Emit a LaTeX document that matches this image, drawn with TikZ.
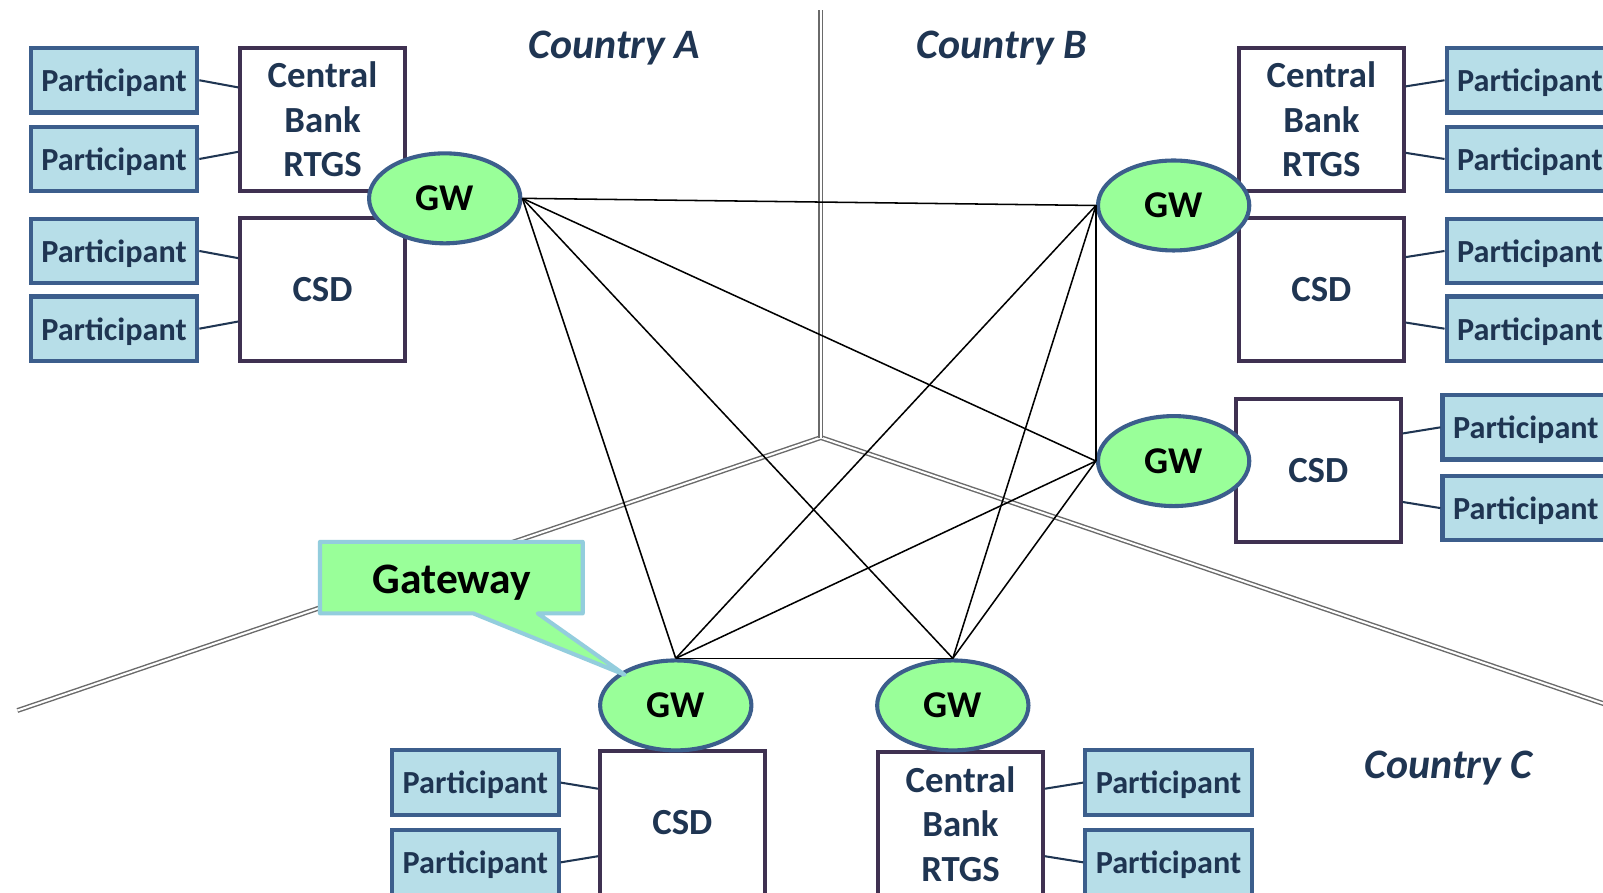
\documentclass[tikz,border=0pt]{standalone}
\usepackage{fontspec}
\setmainfont{Carlito}
\usetikzlibrary{shapes.geometric,calc}
\definecolor{navy}{HTML}{1F3552}
\definecolor{pfill}{HTML}{B7DEE8}
\definecolor{pborder}{HTML}{3C5E8C}
\definecolor{boxborder}{HTML}{3F3151}
\definecolor{gwfill}{HTML}{99FF99}
\definecolor{calloutborder}{HTML}{93CDDD}
\definecolor{divider}{HTML}{6A6A6A}
\tikzset{
  part/.style={draw=pborder, fill=pfill, line width=4pt, minimum width=163pt, minimum height=63pt, inner sep=0pt, text=navy, text depth=0pt, font=\bfseries\fontsize{31.5}{37}\selectfont},
  sysbox/.style={draw=boxborder, fill=white, line width=4pt, minimum width=161pt, minimum height=140pt, inner sep=0pt, text=navy, align=center, font=\bfseries\fontsize{36}{43.5}\selectfont},
  gw/.style={ellipse, draw=pborder, fill=gwfill, line width=4pt, minimum width=148pt, minimum height=88pt, inner sep=0pt, font=\bfseries\fontsize{37}{44}\selectfont},
  link/.style={line width=1.5pt},
  plink/.style={draw=navy, line width=2pt},
  divline/.style={draw=divider, line width=1.4pt, double=white, double distance=2pt},
  country/.style={text=navy, text depth=0pt, font=\bfseries\itshape\fontsize{41}{48}\selectfont},
  callout/.style={draw=calloutborder, fill=gwfill, line width=4pt, line join=round},
  callouttext/.style={text depth=0pt, font=\bfseries\fontsize{42.5}{48}\selectfont}
}
\begin{document}
\begin{tikzpicture}[x=1pt,y=-1pt]
\useasboundingbox (0,0) rectangle (1568,873);
\clip (0,0) rectangle (1568,873);
\fill[white] (0,0) rectangle (1568,873);

% dividers
\coordinate (dTop) at (803,10);
\coordinate (dMid) at (803,428);
\coordinate (dLeft) at (17,695);
\coordinate (dRight) at (1600,699);
\draw[divline] (dLeft) -- (dMid) -- (dRight);
\draw[divline] (dTop) -- (dMid);

% country labels
\node[country] (cA) at (601,44) {Country A};
\node[country] (cB) at (980,44) {Country B};
\node[country] (cC) at (1417,748) {Country C};

% Country A
\node[part] (pA1) at (111.5,78.5) {Participant};
\node[part] (pA2) at (111.5,155.5) {Participant};
\node[part] (pA3) at (111.5,245.5) {Participant};
\node[part] (pA4) at (111.5,321.5) {Participant};
\node[sysbox] (cbA) at (315.5,117) {Central\\Bank\\RTGS};
\node[sysbox] (csdA) at (315.5,283) {CSD};

% Country B
\node[part] (pB1) at (1496.5,78.5) {Participant};
\node[part] (pB2) at (1496.5,155.5) {Participant};
\node[part] (pB3) at (1496.5,245.5) {Participant};
\node[part] (pB4) at (1496.5,321.5) {Participant};
\node[sysbox] (cbB) at (1292.5,117) {Central\\Bank\\RTGS};
\node[sysbox] (csdB) at (1292.5,283) {CSD};
\node[part] (pB5) at (1492.5,418) {Participant};
\node[part] (pB6) at (1492.5,497) {Participant};
\node[sysbox] (csdB2) at (1289.5,460) {CSD};

% Country C
\node[part] (pC1) at (465,765.5) {Participant};
\node[part] (pC2) at (465,843.5) {Participant};
\node[sysbox] (csdC) at (667.5,805) {CSD};
\node[part] (pC3) at (1143,765.5) {Participant};
\node[part] (pC4) at (1143,843.5) {Participant};
\node[sysbox] (cbC) at (939.5,806) {Central\\Bank\\RTGS};

% participant links
\draw[plink] (pA1.east) -- ($(pA1.east -| cbA.west)+(0,7)$);
\draw[plink] (pA2.east) -- ($(pA2.east -| cbA.west)+(0,-7)$);
\draw[plink] (pA3.east) -- ($(pA3.east -| csdA.west)+(0,7)$);
\draw[plink] (pA4.east) -- ($(pA4.east -| csdA.west)+(0,-7)$);
\draw[plink] (pB1.west) -- ($(pB1.west -| cbB.east)+(0,6)$);
\draw[plink] (pB2.west) -- ($(pB2.west -| cbB.east)+(0,-6)$);
\draw[plink] (pB3.west) -- ($(pB3.west -| csdB.east)+(0,6)$);
\draw[plink] (pB4.west) -- ($(pB4.west -| csdB.east)+(0,-6)$);
\draw[plink] (pB5.west) -- ($(pB5.west -| csdB2.east)+(0,6)$);
\draw[plink] (pB6.west) -- ($(pB6.west -| csdB2.east)+(0,-6)$);
\draw[plink] (pC1.east) -- ($(pC1.east -| csdC.west)+(0,6)$);
\draw[plink] (pC2.east) -- ($(pC2.east -| csdC.west)+(0,-6)$);
\draw[plink] (pC3.west) -- ($(pC3.west -| cbC.east)+(0,6)$);
\draw[plink] (pC4.west) -- ($(pC4.west -| cbC.east)+(0,-6)$);

% gateways
\node[gw] (gA) at (435,194) {GW};
\node[gw] (gB1) at (1148,201) {GW};
\node[gw] (gB2) at (1148,451) {GW};
\node[gw] (gC1) at (661,690) {GW};
\node[gw] (gC2) at (932,690) {GW};

% gateway mesh
\draw[link] (gA.east) -- (gB1.west);
\draw[link] (gA.east) -- (gB2.west);
\draw[link] (gA.east) -- (gC1.north);
\draw[link] (gA.east) -- (gC2.north);
\draw[link] (gB1.west) -- (gB2.west);
\draw[link] (gB1.west) -- (gC1.north);
\draw[link] (gB1.west) -- (gC2.north);
\draw[link] (gB2.west) -- (gC1.north);
\draw[link] (gB2.west) -- (gC2.north);
\draw[link] (gC1.north) -- (gC2.north);

% callout
\coordinate (tip) at (611,660);
\draw[callout] (313,530) -- (570,530) -- (570,600) -- (526,600) -- (tip) -- (463,600) -- (313,600) -- cycle;
\node[callouttext] (gwlabel) at (442,567) {Gateway};
\end{tikzpicture}
\end{document}
